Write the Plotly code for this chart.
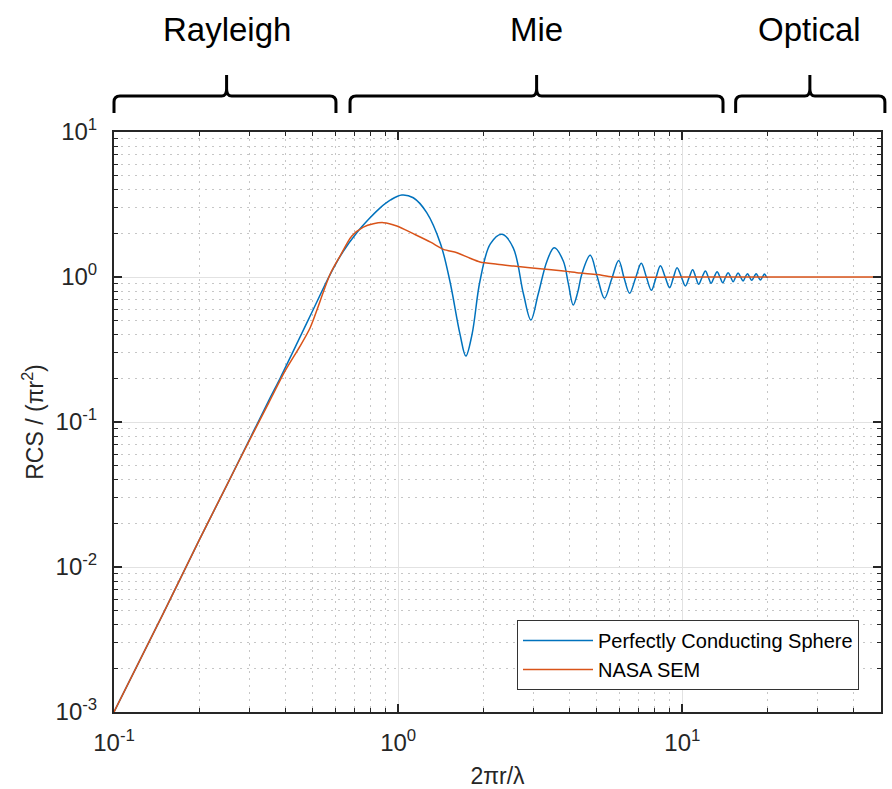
import math
import plotly.graph_objects as go

# ---- data ----
ka_sphere = [0.1, 0.15, 0.2, 0.25, 0.3, 0.35, 0.385, 0.45, 0.5, 0.576, 0.64, 0.715, 0.79, 0.864,
             0.94, 1.03, 1.13, 1.26, 1.41, 1.52, 1.65, 1.73, 1.82, 1.94, 2.11, 2.32, 2.54, 2.76,
             2.93, 3.11, 3.34, 3.54, 3.81, 3.97, 4.13, 4.28, 4.43, 4.74, 5.02, 5.32, 5.64, 5.97,
             6.24, 6.52, 6.84, 7.17, 7.47, 7.78, 8.07, 8.37, 8.70, 9.02, 9.30, 9.58, 9.92,
             10.25, 10.56, 10.87, 11.14, 11.41, 11.73, 12.05, 12.33, 12.62, 12.93, 13.25, 13.56,
             13.87, 14.18, 14.49, 14.79, 15.09, 15.40, 15.71, 16.03, 16.36, 16.65, 16.94, 17.24,
             17.54, 17.86, 18.18, 18.5, 18.82, 19.13, 19.45, 19.78, 20.0]
rcs_sphere = [0.001, 0.0049, 0.0155, 0.037, 0.076, 0.14, 0.202, 0.38, 0.585, 1.04, 1.5, 2.02, 2.52, 3.0,
              3.4, 3.68, 3.52, 2.78, 1.69, 0.938, 0.404, 0.285, 0.404, 0.938, 1.69, 1.97, 1.59, 0.763,
              0.505, 0.763, 1.29, 1.59, 1.29, 0.9, 0.641, 0.78, 1.05, 1.41, 1.0, 0.713, 0.97, 1.30,
              0.98, 0.772, 0.98, 1.243, 1.0, 0.81, 0.985, 1.197, 1.0, 0.844, 0.99, 1.159, 1.0,
              0.867, 0.99, 1.123, 1.0, 0.89, 0.995, 1.10, 1.0, 0.905, 0.995, 1.088, 1.0,
              0.913, 0.995, 1.071, 1.0, 0.928, 1.0, 1.066, 1.0, 0.938, 1.0, 1.054, 1.0,
              0.949, 1.0, 1.054, 1.0, 0.953, 1.0, 1.049, 1.0, 0.985]

ka_sem = [0.1, 0.15, 0.2, 0.25, 0.3, 0.35, 0.4, 0.45, 0.49, 0.576, 0.625, 0.687, 0.754, 0.818,
          0.888, 0.989, 1.13, 1.30, 1.444, 1.61, 1.79, 1.94, 2.23, 2.55, 3.16, 3.82, 4.37, 5.01,
          5.71, 10.0, 20.0, 50.0]
rcs_sem = [0.001, 0.0049, 0.0155, 0.037, 0.075, 0.135, 0.225, 0.33, 0.447, 1.044, 1.40, 1.92, 2.21, 2.33,
           2.37, 2.25, 1.99, 1.74, 1.55, 1.47, 1.346, 1.27, 1.224, 1.19, 1.14, 1.10, 1.065, 1.04,
           1.0, 1.0, 1.0, 1.0]

x_range = [0.1, 50]
y_range = [1e-3, 10]
x_major = [0.1, 1, 10]
x_major_text = ["10<sup>-1</sup>", "10<sup>0</sup>", "10<sup>1</sup>"]
y_major = [1e-3, 1e-2, 1e-1, 1, 10]
y_major_text = ["10<sup>-3</sup>", "10<sup>-2</sup>", "10<sup>-1</sup>", "10<sup>0</sup>", "10<sup>1</sup>"]
x_minor = [0.2, 0.3, 0.4, 0.5, 0.6, 0.7, 0.8, 0.9, 2, 3, 4, 5, 6, 7, 8, 9, 20, 30, 40]
y_minor = [m * 10 ** e for e in range(-3, 1) for m in range(2, 10)]

# regimes: (label, left, right, tip) in ka units
regimes = [("Rayleigh", 0.1, 0.604, 0.249),
           ("Mie", 0.677, 13.9, 3.07),
           ("Optical", 15.4, 51.6, 28.1)]

# ---- layout geometry ----
W, H = 892, 789
ML, MR, MT, MB = 114, 11, 132, 77
PW, PH = W - ML - MR, H - MT - MB
lx0, lx1 = math.log10(x_range[0]), math.log10(x_range[1])


def px_x(v):
    return ML + PW * (math.log10(v) - lx0) / (lx1 - lx0)


def paper_x(px):
    return (px - ML) / PW


def paper_y(py):
    return (H - MB - py) / PH


AX = "#262626"
FONT = "Liberation Sans, Arial, Helvetica, sans-serif"

fig = go.Figure()
fig.add_trace(go.Scatter(x=ka_sphere, y=rcs_sphere, mode="lines", name="Perfectly Conducting Sphere",
                         line=dict(color="#0072BD", width=1.5, shape="spline", smoothing=1.0)))
fig.add_trace(go.Scatter(x=ka_sem, y=rcs_sem, mode="lines", name="NASA SEM",
                         line=dict(color="#D95319", width=1.5, shape="spline", smoothing=0.8)))

axis_common = dict(
    type="log", showline=True, linecolor=AX, linewidth=2, mirror="ticks",
    ticks="inside", ticklen=8, tickwidth=1.5, tickcolor=AX, automargin=False,
    showgrid=True, gridcolor="#e2e2e2", gridwidth=1, zeroline=False,
    tickfont=dict(family=FONT, size=24, color=AX),
)

minor_common = dict(tickmode="array", ticks="inside", ticklen=4, tickcolor=AX, tickwidth=1.2,
                    showgrid=True, gridcolor="#c6c6c6", griddash="2px,5px", gridwidth=1)

fig.update_xaxes(
    **axis_common, range=[lx0, lx1], tickmode="array", tickvals=x_major, ticktext=x_major_text,
    ticklabelstandoff=8,
    minor=dict(**minor_common, tickvals=x_minor),
    title=dict(text="2πr/λ", font=dict(family=FONT, size=23, color=AX), standoff=14),
)
fig.update_yaxes(
    **axis_common, range=[math.log10(y_range[0]), math.log10(y_range[1])], tickmode="array",
    tickvals=y_major, ticktext=y_major_text, ticklabelstandoff=10,
    minor=dict(**minor_common, tickvals=y_minor),
    title=dict(text="RCS / (πr<sup>2</sup>)", font=dict(family=FONT, size=23, color=AX), standoff=6),
)

# braces + regime labels
shapes = []
annotations = []
Y_END, Y_BAR, Y_TIP = 113, 96, 75
for label, xl_v, xr_v, xm_v in regimes:
    xl, xr, xm = px_x(xl_v), px_x(xr_v), px_x(xm_v)
    pts = [
        ("M", xl, Y_END), ("L", xl, Y_BAR + 6), ("Q", xl, Y_BAR, xl + 6, Y_BAR),
        ("L", xm - 5, Y_BAR), ("Q", xm, Y_BAR, xm, Y_BAR - 7), ("L", xm, Y_TIP),
        ("M", xm, Y_BAR - 7), ("Q", xm, Y_BAR, xm + 5, Y_BAR),
        ("L", xr - 6, Y_BAR), ("Q", xr, Y_BAR, xr, Y_BAR + 6), ("L", xr, Y_END),
    ]
    path = ""
    for p in pts:
        cmd = p[0]
        coords = p[1:]
        s = []
        for i in range(0, len(coords), 2):
            s.append(f"{paper_x(coords[i]):.5f},{paper_y(coords[i + 1]):.5f}")
        path += cmd + " ".join(s) + " "
    shapes.append(dict(type="path", path=path.strip(), xref="paper", yref="paper",
                       line=dict(color="black", width=3), layer="above"))
    annotations.append(dict(text=label, x=paper_x(xm), y=paper_y(29), xref="paper", yref="paper",
                            xanchor="center", yanchor="middle", showarrow=False,
                            font=dict(family=FONT, size=33, color="black")))

fig.update_layout(
    width=W, height=H, autosize=False,
    margin=dict(l=ML, r=MR, t=MT, b=MB, pad=0, autoexpand=False),
    plot_bgcolor="white", paper_bgcolor="white",
    shapes=shapes, annotations=annotations,
    legend=dict(x=paper_x(859), y=paper_y(690), xanchor="right", yanchor="bottom",
                bgcolor="white", bordercolor="#333333", borderwidth=1, itemwidth=70,
                font=dict(family=FONT, size=20, color="black"), tracegroupgap=0),
    showlegend=True,
)

fig.write_html("out.html")
